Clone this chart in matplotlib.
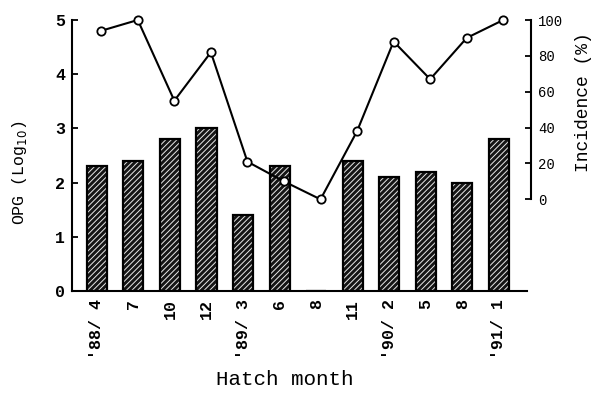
import numpy as np
import matplotlib.pyplot as plt

# data
months = ["'88/ 4", "7", "10", "12", "'89/ 3", "6", "8", "11",
          "'90/ 2", "5", "8", "'91/ 1"]
opg = [2.3, 2.4, 2.8, 3.0, 1.4, 2.3, 0.0, 2.4, 2.1, 2.2, 2.0, 2.8]
incidence = [94, 100, 55, 82, 21, 10, 0, 38, 88, 67, 90, 100]

plt.rcParams['font.family'] = ['Liberation Mono', 'DejaVu Sans Mono']
plt.rcParams['hatch.linewidth'] = 0.7

fig = plt.figure(figsize=(5.96, 4.01), dpi=100)
ax = fig.add_axes([72 / 596, 110 / 401, 455 / 596, 271 / 401])
x = np.arange(len(months))

# dark fill with white hatching, then black outline on top
ax.bar(x, opg, width=0.55, color='#151515', edgecolor='#e8e8e8', hatch='//////', linewidth=0)
ax.bar(x, opg, width=0.55, fill=False, edgecolor='black', linewidth=1.6)

ax.set_xlim(-0.68, 11.77)
ax.set_ylim(0, 5)
ax.set_yticks([0, 1, 2, 3, 4, 5])
ax.set_yticklabels(['0', '1', '2', '3', '4', '5'], fontsize=12, fontweight='bold')
ax.set_xticks(x)
ax.set_xticklabels(months, rotation=90, fontsize=12, fontweight='bold')
ax.tick_params(axis='x', length=0, pad=6)
ax.tick_params(axis='y', direction='in', length=4, width=1.3, pad=5)
for s in ['top', 'right']:
    ax.spines[s].set_visible(False)
ax.spines['left'].set_linewidth(1.5)
ax.spines['bottom'].set_linewidth(1.5)
ax.set_ylabel('OPG (Log$_{10}$)', fontsize=12)
ax.yaxis.set_label_coords(-0.095, (291 - 173) / 271)
ax.set_xlabel('Hatch month', fontsize=15)
ax.xaxis.set_label_coords((285 - 72) / 455, -(370 - 291) / 271)

ax2 = ax.twinx()
ax2.plot(x + 0.12, incidence, color='black', linewidth=1.5, marker='o',
         markersize=6, markerfacecolor='white', markeredgecolor='black',
         markeredgewidth=1.3, clip_on=False, zorder=5)
ax2.set_ylim(-51.1, 100)
ax2.set_yticks([0, 20, 40, 60, 80, 100])
ax2.set_yticklabels(['0', '20', '40', '60', '80', '100'], fontsize=12, fontweight='bold')
ax2.tick_params(axis='y', direction='in', length=4, width=1.3, pad=5)
for s in ['top', 'left', 'bottom']:
    ax2.spines[s].set_visible(False)
ax2.spines['right'].set_bounds(0, 100)
ax2.spines['right'].set_linewidth(1.5)
ax2.spines['right'].set_position(('outward', 3))
ax2.set_ylabel('Incidence (%)', fontsize=13)
ax2.yaxis.set_label_coords((575 - 72) / 455, (291 - 102) / 271)

fig.savefig('out.png', dpi=100)
